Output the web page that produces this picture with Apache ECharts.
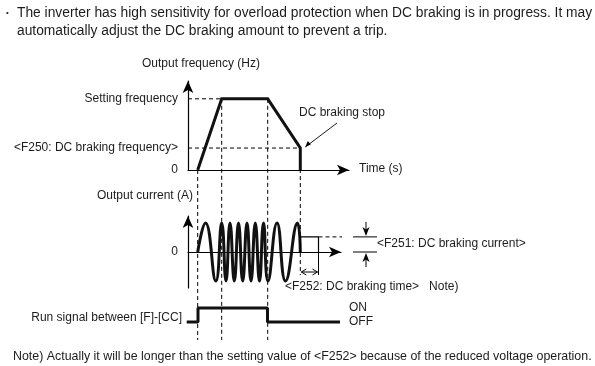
<!DOCTYPE html>
<html><head><meta charset="utf-8">
<script src="https://cdn.jsdelivr.net/npm/echarts@6/dist/echarts.min.js"></script>
<style>html,body{margin:0;padding:0;background:#fff}#c{width:595px;height:366px}</style>
</head><body><div id="c"></div>
<script>
// ---------------- data ----------------
// time axis is in arbitrary units (same scale in all three panels)
const freqTime = [9.7, 33.7, 79.7, 112.3, 112.3];
const freqValue = [0, 60, 60, 18.5, 0];
const settingFreq = 60;
const dcBrakeFreq = 18.5;
const freqTicks = [0, 18.5, 60];
const freqTickLabels = ['0', '<F250: DC braking frequency>', 'Setting frequency'];

const currentTime  = [9.7, 17.5, 27.8, 33.7, 38, 42, 46.3, 50.5, 54.7, 59, 63, 67.3, 71.5, 75.5, 80, 89, 97.5, 109.5, 112.3];
const currentValue = [0, 10, -10, 10, -10, 10, -10, 10, -10, 10, -10, 10, -10, 10, -10, 10, -10, 10, 0];
const dcBrakeCurrent = 5.2;
const dcBrakeTime = [112.3, 130.5];

const runTime  = [-1.3, 10, 79.5, 152];
const runState = [0, 1, 0, 0];
const runLabels = ['OFF', 'ON'];

// event instants used for dashed guides: [time, frequency at top of guide]
const guideTime = [9.7, 33.7, 79.7, 112.3];
const guideFreq = [0, settingFreq, settingFreq, dcBrakeFreq];

// ---------------- chart ----------------
const FONT = "'Liberation Sans', Arial, sans-serif";
const TXT = '#1c1c1c';
const LINE = '#111';
const FS = 12;
const arrowLine = {show: true, symbol: ['none', 'arrow'], symbolSize: [8, 12], lineStyle: {color: '#000', width: 1.2}};
const noAxisBits = {axisTick: {show: false}, splitLine: {show: false}};

const chart = echarts.init(document.getElementById('c'), null, {renderer: 'canvas'});
const zip = (a, b) => a.map((v, i) => [v, b[i]]);

chart.setOption({
  animation: false,
  textStyle: {fontFamily: FONT},
  grid: [
    {left: 188, top: 81, width: 161, height: 89},
    {left: 188, top: 216, width: 153, height: 72},
    {left: 183, top: 308, width: 157, height: 14}
  ],
  xAxis: [
    Object.assign({gridIndex: 0, type: 'value', min: 0, max: 161, axisLine: arrowLine, axisLabel: {show: false}}, noAxisBits),
    Object.assign({gridIndex: 1, type: 'value', min: 0, max: 153, axisLine: arrowLine, axisLabel: {show: false}}, noAxisBits),
    {gridIndex: 2, type: 'value', min: -5, max: 152, show: false}
  ],
  yAxis: [
    Object.assign({gridIndex: 0, type: 'value', min: 0, max: 75, axisLine: arrowLine,
      axisLabel: {customValues: freqTicks, formatter: v => freqTickLabels[freqTicks.indexOf(v)], margin: 10, fontSize: FS, color: TXT, fontFamily: FONT}}, noAxisBits),
    Object.assign({gridIndex: 1, type: 'value', min: -12.4, max: 12.4, axisLine: arrowLine,
      axisLabel: {customValues: [0], formatter: () => '0', margin: 10, fontSize: FS, color: TXT, fontFamily: FONT}}, noAxisBits),
    Object.assign({gridIndex: 2, type: 'value', min: 0, max: 1, position: 'right', axisLine: {show: false},
      axisLabel: {customValues: [0, 1], formatter: v => runLabels[v], margin: 9, align: 'left', fontSize: FS, color: TXT, fontFamily: FONT}}, noAxisBits)
  ],
  series: [
    {type: 'line', xAxisIndex: 0, yAxisIndex: 0, data: zip(freqTime, freqValue), symbol: 'none',
      lineStyle: {color: LINE, width: 3, join: 'miter'}, clip: false},
    {type: 'line', xAxisIndex: 0, yAxisIndex: 0, data: [[0, settingFreq], [freqTime[1], settingFreq]], symbol: 'none',
      lineStyle: {color: '#000', width: 1, type: [4, 3]}},
    {type: 'line', xAxisIndex: 0, yAxisIndex: 0, data: [[0, dcBrakeFreq], [freqTime[3], dcBrakeFreq]], symbol: 'none',
      lineStyle: {color: '#000', width: 1, type: [4, 3]}},
    {type: 'line', xAxisIndex: 1, yAxisIndex: 1, data: zip(currentTime, currentValue), symbol: 'none', smooth: 0.5,
      lineStyle: {color: LINE, width: 3}, clip: false},
    {type: 'line', xAxisIndex: 1, yAxisIndex: 1,
      data: [[dcBrakeTime[0], 0], [dcBrakeTime[0], dcBrakeCurrent], [dcBrakeTime[1], dcBrakeCurrent], [dcBrakeTime[1], 0]],
      symbol: 'none', lineStyle: {color: '#000', width: 1.2}},
    {type: 'line', xAxisIndex: 1, yAxisIndex: 1, data: [[dcBrakeTime[1], dcBrakeCurrent], [158, dcBrakeCurrent]],
      symbol: 'none', clip: false, lineStyle: {color: '#000', width: 1, type: [4, 3]}},
    {type: 'line', xAxisIndex: 2, yAxisIndex: 2, data: zip(runTime, runState), step: 'end', symbol: 'none',
      lineStyle: {color: LINE, width: 3}, clip: false}
  ]
});

// ---------------- annotations positioned through the axes ----------------
const P = (gi, p) => chart.convertToPixel({gridIndex: gi}, p);
const g = [];
const txt = (x, y, s, opt) => g.push({type: 'text', x: x, y: y,
  style: Object.assign({text: s, fill: TXT, font: FS + 'px ' + FONT, textAlign: 'left', textVerticalAlign: 'middle'}, opt || {})});
const seg = (x1, y1, x2, y2, st) => g.push({type: 'line', shape: {x1: x1, y1: y1, x2: x2, y2: y2},
  style: Object.assign({stroke: '#000', lineWidth: 1}, st || {})});
const tri = (pts) => g.push({type: 'polygon', shape: {points: pts}, style: {fill: '#000'}});

const runBottom = P(2, [0, 0])[1];
const dcLevel = P(1, [0, dcBrakeCurrent])[1];
const zeroCur = P(1, [0, 0])[1];
const timeArrowY = zeroCur + 20;

// dashed vertical guides
guideTime.forEach((t, i) => {
  const top = P(0, [t, guideFreq[i]]);
  const bottom = i === 3 ? timeArrowY + 3 : runBottom + 18;
  seg(top[0], top[1], top[0], bottom, {lineDash: [4, 3]});
});
// solid guide at end of DC braking
const dcEndPx = P(1, [dcBrakeTime[1], dcBrakeCurrent]);
const dcStartPx = P(1, [dcBrakeTime[0], dcBrakeCurrent]);
seg(dcEndPx[0], dcEndPx[1], dcEndPx[0], timeArrowY + 3, {lineWidth: 1});
// braking time double arrow
seg(dcStartPx[0] + 1, timeArrowY, dcEndPx[0] - 1, timeArrowY, {lineWidth: 1});
g.push({type: 'polyline', shape: {points: [[dcStartPx[0] + 6, timeArrowY - 3], [dcStartPx[0] + 1, timeArrowY], [dcStartPx[0] + 6, timeArrowY + 3]]}, style: {stroke: '#000', lineWidth: 1, fill: null}});
g.push({type: 'polyline', shape: {points: [[dcEndPx[0] - 6, timeArrowY - 3], [dcEndPx[0] - 1, timeArrowY], [dcEndPx[0] - 6, timeArrowY + 3]]}, style: {stroke: '#000', lineWidth: 1, fill: null}});

// DC braking current indicator
const ix = 366;
seg(353, dcLevel, 377, dcLevel, {lineWidth: 1});
seg(353, zeroCur, 377, zeroCur, {lineWidth: 1});
seg(ix, dcLevel - 15, ix, dcLevel - 5, {lineWidth: 1});
tri([[ix - 3.5, dcLevel - 10], [ix, dcLevel - 7.5], [ix + 3.5, dcLevel - 10], [ix, dcLevel - 1]]);
seg(ix, zeroCur + 15, ix, zeroCur + 5, {lineWidth: 1});
tri([[ix - 3.5, zeroCur + 10], [ix, zeroCur + 7.5], [ix + 3.5, zeroCur + 10], [ix, zeroCur + 1]]);

// DC braking stop leader
const stopPx = P(0, [freqTime[3], dcBrakeFreq]);
seg(337, 123, stopPx[0] + 5, stopPx[1] - 1, {lineWidth: 0.9});
g.push({type: 'polygon', shape: {points: [[stopPx[0] + 5, stopPx[1] - 1], [stopPx[0] + 7.5, stopPx[1] - 7], [stopPx[0] + 10.5, stopPx[1] - 3.5]]}, style: {fill: '#000'}});

// texts
txt(6, 13, '•', {font: '8px ' + FONT});
txt(17, 13, 'The inverter has high sensitivity for overload protection when DC braking is in progress. It may', {font: '13.8px ' + FONT});
txt(17, 31, 'automatically adjust the DC braking amount to prevent a trip.', {font: '13.8px ' + FONT});
txt(201, 64, 'Output frequency (Hz)', {textAlign: 'center'});
txt(299, 113, 'DC braking stop');
txt(359, 169, 'Time (s)');
txt(193, 196, 'Output current (A)', {textAlign: 'right'});
txt(377, 244, '<F251: DC braking current>');
txt(285, 287, '<F252: DC braking time>   Note)');
txt(182, 318, 'Run signal between [F]-[CC]', {textAlign: 'right'});
txt(13, 357, 'Note) Actually it will be longer than the setting value of <F252> because of the reduced voltage operation.', {font: '12.4px ' + FONT});

chart.setOption({graphic: g});
</script></body></html>
